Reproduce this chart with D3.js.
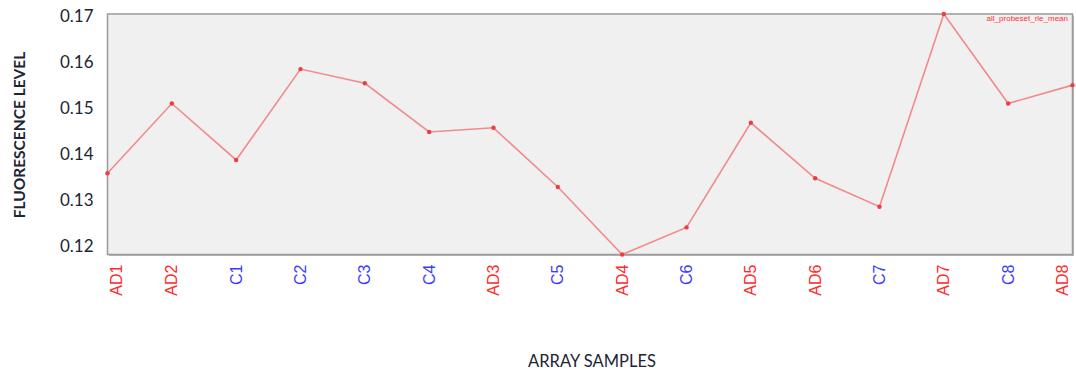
<!DOCTYPE html>
<html>
<head>
<meta charset="utf-8">
<script src="https://cdn.jsdelivr.net/npm/d3@7"></script>
<style>
  body { margin: 0; background: #fff; }
  svg { display: block; }
</style>
</head>
<body>
<script>
/*** DATA ***/
let samples = ["AD1", "AD2", "C1", "C2", "C3", "C4", "AD3", "C5", "AD4", "C6", "AD5", "AD6", "C7", "AD7", "C8", "AD8"];
let rleMean = [0.1358, 0.1510, 0.1387, 0.1585, 0.1554, 0.1448, 0.1457, 0.1328, 0.1181, 0.1240, 0.1468, 0.1347, 0.1285, 0.1705, 0.1510, 0.1550];
let yTicks = [0.12, 0.13, 0.14, 0.15, 0.16, 0.17];
let seriesName = "all_probeset_rle_mean";

/*** GRAPH ***/
let W = 1076, H = 376;
let plot = { left: 107.5, right: 1072.5, top: 14, bottom: 254.5 };

let x = d3.scalePoint()
  .domain(samples)
  .range([plot.left, plot.right]);

let y = d3.scaleLinear()
  .domain([0.1181, 0.1705])
  .range([plot.bottom, plot.top]);

/* AD = rouge, C = bleu */
let labelColor = (s) => s.startsWith("AD") ? "#ff2a2a" : "#3b3bff";

let svg = d3.select("body").append("svg")
  .attr("width", W)
  .attr("height", H);

/* fond + cadre */
svg.append("rect")
  .attr("x", plot.left + 1.5)
  .attr("y", plot.top + 1.5)
  .attr("width", plot.right - plot.left)
  .attr("height", plot.bottom - plot.top)
  .style("fill", "#b8b8b8");
svg.append("rect")
  .attr("x", plot.left)
  .attr("y", plot.top)
  .attr("width", plot.right - plot.left)
  .attr("height", plot.bottom - plot.top)
  .style("fill", "#f0f0f0")
  .style("stroke", "#9a9a9a")
  .style("stroke-width", 1.5);

/* axe y */
let yAxis = d3.axisLeft(y)
  .tickValues(yTicks)
  .tickFormat(d3.format(".2f"))
  .tickSize(0)
  .tickPadding(14);

svg.append("g")
  .attr("transform", "translate(" + plot.left + ",0)")
  .call(yAxis)
  .call(g => g.select(".domain").remove())
  .selectAll("text")
  .style("font-family", "Lato, 'Open Sans', sans-serif")
  .style("font-size", "17px")
  .style("fill", "#1c2533");

/* axe x : les étiquettes des bords restent dans le cadre */
let xAxis = d3.axisBottom(x).tickSize(0).tickPadding(0);

svg.append("g")
  .attr("transform", "translate(0," + (plot.bottom + 10) + ")")
  .call(xAxis)
  .call(g => g.select(".domain").remove())
  .call(g => g.selectAll(".tick")
    .attr("transform", (d) => "translate(" + Math.max(plot.left + 9, Math.min(plot.right - 10, x(d))) + ",0)"))
  .selectAll("text")
  .attr("transform", "rotate(-90)")
  .attr("x", 0)
  .attr("y", 0)
  .attr("dy", "0.35em")
  .style("text-anchor", "end")
  .style("font-family", "'Liberation Sans', Arial, sans-serif")
  .style("font-size", "16px")
  .style("fill", (d) => labelColor(d));

/* ligne */
let line = d3.line()
  .x((d, i) => x(samples[i]))
  .y((d) => y(d));

svg.append("path")
  .datum(rleMean)
  .attr("d", line)
  .style("fill", "none")
  .style("stroke", "#f28a8a")
  .style("stroke-width", 1.6);

/* points */
svg.selectAll(".dot")
  .data(rleMean)
  .enter().append("circle")
  .attr("class", "dot")
  .attr("r", 2.2)
  .attr("cx", (d, i) => x(samples[i]))
  .attr("cy", (d) => y(d))
  .style("fill", "#f03c3c");

/* légende */
svg.append("text")
  .attr("x", 1068)
  .attr("y", 21)
  .attr("text-anchor", "end")
  .style("font-family", "'Liberation Sans', Arial, sans-serif")
  .style("font-size", "8px")
  .style("fill", "#ff3030")
  .text(seriesName);

/* titres des axes */
svg.append("text")
  .attr("transform", "translate(25,135) rotate(-90)")
  .attr("text-anchor", "middle")
  .style("font-family", "Lato, 'Open Sans', sans-serif")
  .style("font-weight", "bold")
  .style("font-size", "15.5px")
  .style("fill", "#1c2533")
  .text("FLUORESCENCE LEVEL");

svg.append("text")
  .attr("x", 592)
  .attr("y", 367)
  .attr("text-anchor", "middle")
  .style("font-family", "Lato, 'Open Sans', sans-serif")
  .style("font-size", "16.5px")
  .style("fill", "#1c2533")
  .text("ARRAY SAMPLES");
</script>
</body>
</html>
